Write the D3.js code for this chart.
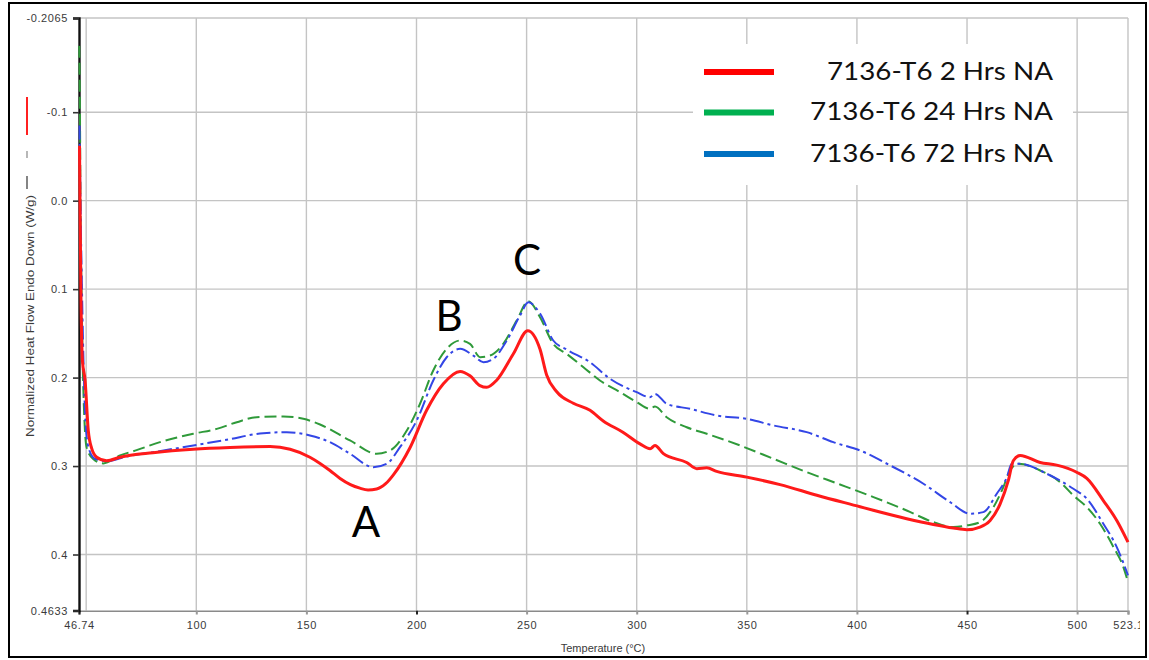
<!DOCTYPE html>
<html>
<head>
<meta charset="utf-8">
<script src="https://cdn.jsdelivr.net/npm/d3@7"></script>
<style>
  html, body { margin: 0; padding: 0; background: #fff; }
  svg { display: block; }
</style>
</head>
<body>
<svg id="chart" width="1149" height="660"></svg>
<script>
// DSC scans of 7136-T6 after different natural ageing times
const seriesNames = ["7136-T6 2 Hrs NA", "7136-T6 24 Hrs NA", "7136-T6 72 Hrs NA"];

const temp2h = [46.97, 47.2, 47.6, 48.3, 49.5, 50.96, 52.5, 54.8, 59.3, 65.4, 80.3, 98.5, 115.3, 133.5, 142.6, 151.6, 156.2, 160.7, 165.3, 170, 174.3, 178, 181.9, 186, 189.5, 197.1, 204.6, 212.2, 219.8, 224.3, 228.8, 231.9, 236.4, 244, 250.5, 256.1, 259.1, 263.7, 271.2, 278.8, 284.8, 293.9, 301.5, 306.1, 308.3, 312.1, 322.7, 327.3, 331.8, 336.3, 350, 365.1, 381.8, 401.4, 407.4, 422.6, 434.7, 443.8, 449.9, 455.9, 460.5, 465, 468.8, 471, 474.1, 483.2, 490.7, 499.8, 504.4, 511.9, 518, 523.1];
const flow2h = [-0.062, 0.0, 0.102, 0.181, 0.203, 0.260, 0.280, 0.290, 0.294, 0.290, 0.285, 0.281, 0.279, 0.278, 0.281, 0.290, 0.297, 0.305, 0.314, 0.321, 0.325, 0.327, 0.326, 0.320, 0.310, 0.279, 0.237, 0.207, 0.193, 0.198, 0.209, 0.211, 0.203, 0.173, 0.147, 0.168, 0.197, 0.216, 0.229, 0.237, 0.249, 0.262, 0.275, 0.2805, 0.2767, 0.286, 0.296, 0.303, 0.302, 0.306, 0.3125, 0.321, 0.333, 0.346, 0.350, 0.3595, 0.366, 0.370, 0.372, 0.369, 0.3615, 0.343, 0.316, 0.294, 0.288, 0.296, 0.299, 0.307, 0.314, 0.339, 0.3615, 0.386];

const temp24h = [46.85, 47.2, 47.4, 47.9, 48.6, 50.2, 53.2, 57.8, 65.4, 72.9, 83.5, 98.6, 109.3, 118.4, 127.4, 139.5, 148.6, 156.2, 169.8, 181.9, 188, 195.6, 201.6, 207.6, 213.7, 219.8, 224.3, 228.9, 233.4, 239.4, 245.5, 250.8, 256.1, 262.1, 268.2, 275.8, 283.3, 292.4, 300, 306, 308.3, 313.6, 322.7, 331.8, 346.9, 362.1, 377.2, 392.3, 407.5, 422.6, 434.7, 443.8, 449.9, 455.9, 462, 466.5, 469.5, 473.3, 483.2, 492.3, 498.3, 504.4, 510.4, 516.5, 521, 523.1];
const flow24h = [-0.175, -0.09, 0.0, 0.102, 0.203, 0.279, 0.292, 0.297, 0.288, 0.282, 0.273, 0.2635, 0.258, 0.2504, 0.2448, 0.244, 0.2466, 0.253, 0.2711, 0.2861, 0.2824, 0.2598, 0.2296, 0.192, 0.1675, 0.1581, 0.1619, 0.177, 0.1751, 0.1619, 0.1355, 0.1137, 0.1318, 0.1619, 0.1732, 0.1883, 0.2033, 0.2165, 0.2278, 0.2353, 0.2327, 0.2448, 0.2561, 0.2635, 0.2767, 0.2918, 0.3069, 0.3208, 0.3351, 0.3502, 0.3634, 0.369, 0.3671, 0.3634, 0.3464, 0.3238, 0.305, 0.2974, 0.305, 0.3182, 0.3332, 0.3464, 0.3652, 0.3916, 0.4142, 0.4311];

const temp72h = [46.97, 47.4, 48.1, 49.0, 49.5, 51.0, 54.0, 59.3, 68.4, 80.5, 98.7, 113.8, 130.4, 141.1, 151.6, 160.7, 169.8, 180.4, 186.5, 192.5, 200.1, 207.6, 213.7, 219.8, 225.8, 230.4, 234.9, 241, 247, 250.8, 256.1, 262.1, 268.2, 278.8, 287.9, 300, 306, 308.3, 313.6, 324.2, 336.3, 350, 362.1, 377.2, 389.3, 401.4, 415.1, 430.2, 442.3, 451.4, 457.4, 463.5, 468.1, 470.3, 474.1, 486.2, 498.3, 504.4, 511.9, 518, 523.1];
const flow72h = [-0.085, 0.0, 0.102, 0.203, 0.241, 0.2787, 0.2918, 0.2944, 0.2892, 0.2843, 0.2767, 0.2703, 0.2628, 0.2617, 0.2654, 0.273, 0.2861, 0.3013, 0.2974, 0.2787, 0.2485, 0.2033, 0.177, 0.1675, 0.1751, 0.1827, 0.1788, 0.1581, 0.1299, 0.1149, 0.1276, 0.1581, 0.1683, 0.1827, 0.2014, 0.2165, 0.2222, 0.2184, 0.2296, 0.2353, 0.2429, 0.2466, 0.2541, 0.2617, 0.273, 0.2824, 0.2993, 0.32, 0.3408, 0.3539, 0.3521, 0.3313, 0.3126, 0.2974, 0.2974, 0.3087, 0.3257, 0.3369, 0.3652, 0.3916, 0.4236];

// Axis ticks
const xTickValues = [46.74, 100, 150, 200, 250, 300, 350, 400, 450, 500, 523.1];
const xTickLabels = ["46.74", "100", "150", "200", "250", "300", "350", "400", "450", "500", "523.1"];
const yTickValues = [-0.2065, -0.1, 0.0, 0.1, 0.2, 0.3, 0.4, 0.4633];
const yTickLabels = ["-0.2065", "-0.1", "0.0", "0.1", "0.2", "0.3", "0.4", "0.4633"];
const xGridValues = [50, 100, 150, 200, 250, 300, 350, 400, 450, 500, 523.1];
const yGridValues = [-0.2065, -0.1, 0.0, 0.1, 0.2, 0.3, 0.4];

// Peak markers
const peakLabels = ["A", "B", "C"];
const peakTemps = [177.1, 214.8, 250.2];
const peakFlows = [0.380, 0.147, 0.084];

const svg = d3.select("#chart");
const plot = { left: 79, right: 1128, top: 18, bottom: 610.5 };

const x = d3.scaleLinear().domain([46.74, 523.1]).range([plot.left, plot.right]);
const y = d3.scaleLinear().domain([-0.2065, 0.4633]).range([plot.top, plot.bottom]);

// outer frame
svg.append("rect")
  .attr("x", 9).attr("y", 3).attr("width", 1137).attr("height", 654)
  .attr("fill", "#fff").attr("stroke", "#000").attr("stroke-width", 2);

// grid
const grid = svg.append("g").attr("stroke", "#c4c4c4").attr("stroke-width", 1.4);
grid.selectAll("line.v").data(xGridValues).join("line")
  .attr("x1", d => x(d)).attr("x2", d => x(d))
  .attr("y1", plot.top).attr("y2", plot.bottom);
grid.selectAll("line.h").data(yGridValues).join("line")
  .attr("x1", plot.left).attr("x2", plot.right)
  .attr("y1", d => y(d)).attr("y2", d => y(d));

// x axis
const xAxis = svg.append("g")
  .attr("transform", `translate(0,${plot.bottom})`)
  .call(d3.axisBottom(x).tickValues(xTickValues)
    .tickFormat((d, i) => xTickLabels[i]).tickSize(4).tickPadding(7));
xAxis.select(".domain").attr("stroke", "#8a8a8a").attr("stroke-width", 2);
xAxis.selectAll(".tick line").attr("stroke", (d) => (d === 200 || d === 450 || d === 46.74) ? "#222" : "#999").attr("stroke-width", 2);
xAxis.selectAll(".tick text")
  .attr("fill", "#3a3a3a").attr("font-family", "Liberation Sans, Arial, sans-serif")
  .attr("font-size", 11).attr("letter-spacing", 0.6);

// y axis
const yAxis = svg.append("g")
  .attr("transform", `translate(${plot.left},0)`)
  .call(d3.axisLeft(y).tickValues(yTickValues)
    .tickFormat((d, i) => yTickLabels[i]).tickSize(6).tickPadding(5));
yAxis.select(".domain").attr("stroke", "#111").attr("stroke-width", 2.4);
yAxis.selectAll(".tick line").attr("stroke", "#333").attr("stroke-width", 1.6);
yAxis.selectAll(".tick text")
  .attr("fill", "#3a3a3a").attr("font-family", "Liberation Sans, Arial, sans-serif")
  .attr("font-size", 11).attr("letter-spacing", 0.6);

// clip the last x label at the frame edge
svg.append("clipPath").attr("id", "frameClip")
  .append("rect").attr("x", 0).attr("y", 0).attr("width", 1140).attr("height", 660);
xAxis.attr("clip-path", "url(#frameClip)");

// axis titles
svg.append("text")
  .attr("x", 603).attr("y", 652)
  .attr("text-anchor", "middle")
  .attr("font-family", "Liberation Sans, Arial, sans-serif")
  .attr("font-size", 11).attr("fill", "#3a3a3a")
  .text("Temperature (°C)");

svg.append("text")
  .attr("transform", "translate(34,316) rotate(-90)")
  .attr("text-anchor", "middle")
  .attr("font-family", "Liberation Sans, Arial, sans-serif")
  .attr("font-size", 10.5).attr("fill", "#3a3a3a")
  .attr("textLength", 242).attr("lengthAdjust", "spacingAndGlyphs")
  .text("Normalized Heat Flow Endo Down (W/g)");

// small line key beside the y title
svg.append("line").attr("x1", 27).attr("x2", 27).attr("y1", 97).attr("y2", 135)
  .attr("stroke", "#ff2020").attr("stroke-width", 2);
svg.append("line").attr("x1", 27).attr("x2", 27).attr("y1", 151).attr("y2", 158)
  .attr("stroke", "#888").attr("stroke-width", 1.2);
svg.append("line").attr("x1", 27).attr("x2", 27).attr("y1", 176).attr("y2", 189)
  .attr("stroke", "#333").attr("stroke-width", 1.2);

// curves
const line = d3.line()
  .x(d => x(d[0]))
  .y(d => y(d[1]))
  .curve(d3.curveMonotoneX);

const curves = [
  { t: temp24h, f: flow24h, color: "#2f9a3a", width: 2, dash: "12,5" },
  { t: temp72h, f: flow72h, color: "#3346e6", width: 2, dash: "14,4,3,4" },
  { t: temp2h, f: flow2h, color: "#ff1a1a", width: 3, dash: null }
];

const curveGroup = svg.append("g");
curves.forEach(c => {
  curveGroup.append("path")
    .datum(d3.zip(c.t, c.f))
    .attr("fill", "none")
    .attr("stroke", c.color)
    .attr("stroke-width", c.width)
    .attr("stroke-dasharray", c.dash)
    .attr("stroke-linejoin", "round")
    .attr("d", line);
});

// peak letters
svg.append("g").selectAll("text").data(peakLabels).join("text")
  .attr("x", (d, i) => x(peakTemps[i]))
  .attr("y", (d, i) => y(peakFlows[i]))
  .attr("text-anchor", "middle")
  .attr("font-family", "Lato, Carlito, sans-serif")
  .attr("font-size", 42)
  .attr("fill", "#000")
  .text(d => d);

// legend
const legendColors = ["#ff0000", "#00b050", "#0070c0"];
const legend = svg.append("g");
legend.append("rect")
  .attr("x", 693).attr("y", 44).attr("width", 380).attr("height", 141)
  .attr("fill", "#fff");
const rowY = [72, 112.5, 154];
seriesNames.forEach((name, i) => {
  legend.append("line")
    .attr("x1", 704).attr("x2", 774)
    .attr("y1", rowY[i]).attr("y2", rowY[i])
    .attr("stroke", legendColors[i]).attr("stroke-width", 6);
  const w = i === 0 ? 226 : 243;
  legend.append("text")
    .attr("x", 1053).attr("y", rowY[i] + 7.5)
    .attr("text-anchor", "end")
    .attr("font-family", "Lato, Carlito, sans-serif")
    .attr("font-size", 24.5)
    .attr("fill", "#111")
    .attr("textLength", w).attr("lengthAdjust", "spacingAndGlyphs")
    .text(name);
});
</script>
</body>
</html>
